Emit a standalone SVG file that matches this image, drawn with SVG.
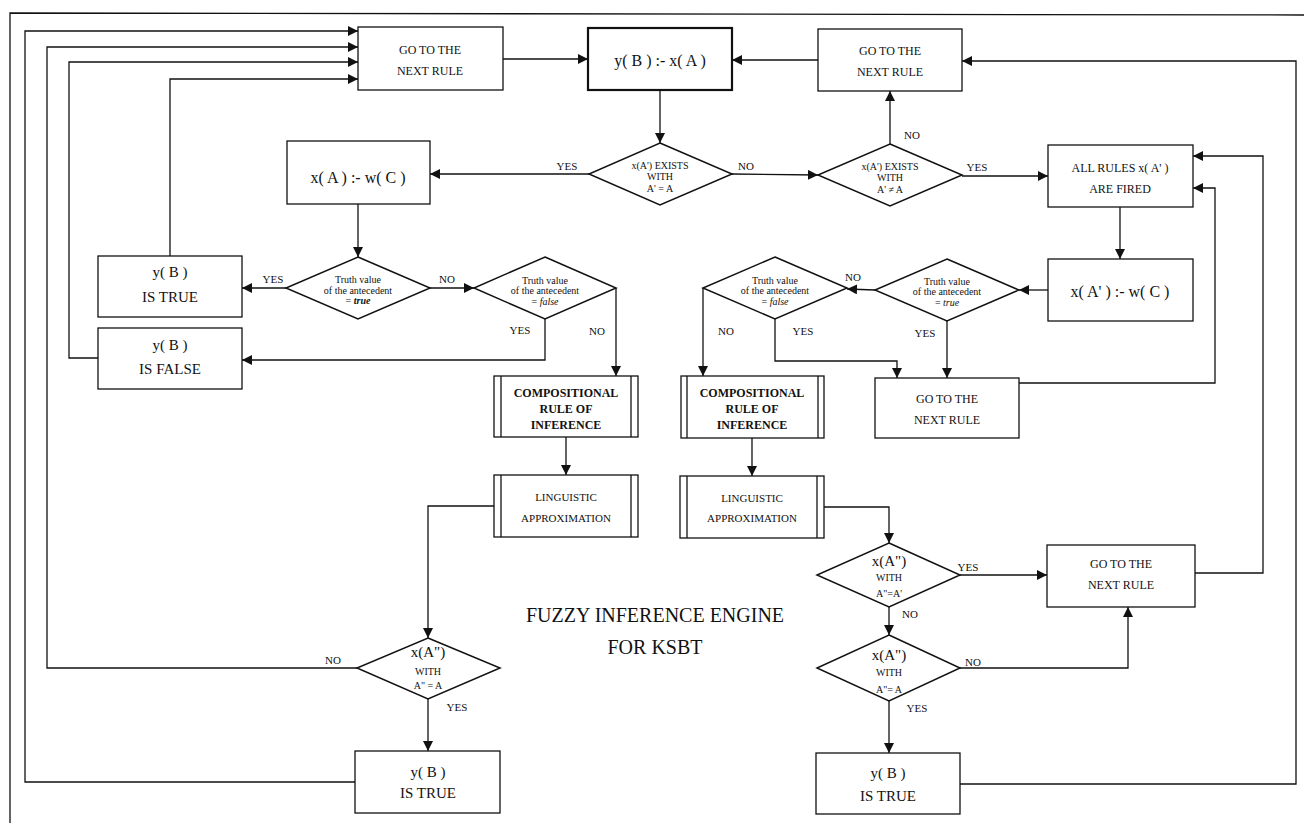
<svg xmlns="http://www.w3.org/2000/svg" width="1304" height="823" viewBox="0 0 1304 823">
<style>
text{font-family:"Liberation Serif","Times New Roman",serif;fill:#111;text-anchor:middle;dominant-baseline:central}
.box{fill:#fff;stroke:#111;stroke-width:1.3}
.thick{stroke-width:2.2}
.dia{fill:#fff;stroke:#111;stroke-width:1.5}
.ln{fill:none;stroke:#111;stroke-width:1.3}
.arr{fill:none;stroke:#111;stroke-width:1.3;marker-end:url(#ah)}
.t12{font-size:12px}
.t11{font-size:11px}
.t15{font-size:15px}
.t16{font-size:16px}
.sm{font-size:10px}
.lab{font-size:11px}
.b{font-weight:bold}
.it{font-style:italic}
.title{font-size:20px}
</style>
<defs>
<marker id="ah" markerUnits="userSpaceOnUse" markerWidth="10" markerHeight="10" viewBox="0 0 10 10" refX="10" refY="5" orient="auto">
<path d="M0,0 L10,5 L0,10 z" fill="#111"/>
</marker>
</defs>
<rect width="1304" height="823" fill="#fff"/>
<polyline class="ln" points="10,823 10,13 1304,15"/>

<g id="connectors">
<line class="arr" x1="503" y1="59" x2="588" y2="59"/>
<line class="arr" x1="818" y1="60" x2="732" y2="60"/>
<line class="arr" x1="660" y1="90" x2="660" y2="143"/>
<line class="arr" x1="589" y1="174" x2="430" y2="174"/>
<line class="arr" x1="732" y1="174" x2="818" y2="175"/>
<line class="arr" x1="890" y1="144" x2="890" y2="91"/>
<line class="arr" x1="962" y1="176" x2="1048" y2="176"/>
<polyline class="arr" points="960,784 1296,784 1296,61 962,61"/>
<line class="arr" x1="1120" y1="207" x2="1120" y2="259"/>
<line class="arr" x1="1048" y1="290" x2="1019" y2="290"/>
<line class="arr" x1="875" y1="290" x2="847" y2="289"/>
<line class="arr" x1="947" y1="321" x2="947" y2="378"/>
<polyline class="arr" points="775,319 775,361 897,361 897,378"/>
<line class="arr" x1="703" y1="288" x2="703" y2="376"/>
<polyline class="arr" points="1019,383 1215,383 1215,188 1193,188"/>
<polyline class="arr" points="1195,573 1263,573 1263,156 1193,156"/>
<line class="arr" x1="358" y1="204" x2="358" y2="257"/>
<line class="arr" x1="286" y1="288" x2="242" y2="288"/>
<line class="arr" x1="430" y1="288" x2="474" y2="288"/>
<polyline class="arr" points="545,319 545,360 242,360"/>
<line class="arr" x1="616" y1="288" x2="616" y2="376"/>
<line class="arr" x1="566" y1="437" x2="566" y2="475"/>
<polyline class="arr" points="494,506 428,506 428,638"/>
<line class="arr" x1="428" y1="699" x2="428" y2="751"/>
<polyline class="arr" points="357,668 47,668 47,47 358,47"/>
<polyline class="arr" points="355,782 25,782 25,31 358,31"/>
<polyline class="arr" points="98,358 69,358 69,62 358,62"/>
<polyline class="arr" points="170,256 170,79 358,79"/>
<line class="arr" x1="752" y1="438" x2="752" y2="476"/>
<polyline class="arr" points="824,507 889,507 889,543"/>
<line class="arr" x1="960" y1="575" x2="1047" y2="575"/>
<line class="arr" x1="889" y1="607" x2="889" y2="635"/>
<polyline class="arr" points="960,668 1128,668 1128,607"/>
<line class="arr" x1="889" y1="701" x2="889" y2="753"/>
<text class="lab" x="567" y="166">YES</text>
<text class="lab" x="746" y="166">NO</text>
<text class="lab" x="912" y="135">NO</text>
<text class="lab" x="977" y="167">YES</text>
<text class="lab" x="853" y="277">NO</text>
<text class="lab" x="925" y="333">YES</text>
<text class="lab" x="803" y="331">YES</text>
<text class="lab" x="726" y="331">NO</text>
<text class="lab" x="273" y="279">YES</text>
<text class="lab" x="447" y="279">NO</text>
<text class="lab" x="520" y="330">YES</text>
<text class="lab" x="597" y="331">NO</text>
<text class="lab" x="457" y="707">YES</text>
<text class="lab" x="333" y="660">NO</text>
<text class="lab" x="968" y="567">YES</text>
<text class="lab" x="910" y="614">NO</text>
<text class="lab" x="973" y="662">NO</text>
<text class="lab" x="917" y="708">YES</text>
</g>

<g id="go1"><rect class="box" x="358" y="27" width="145" height="63"/><text class="t12" x="430" y="50">GO TO THE</text><text class="t12" x="430" y="71">NEXT RULE</text></g>
<g id="ybxa"><rect class="box thick" x="588" y="28" width="144" height="62"/><text class="t16" x="660" y="60">y( B ) :- x( A )</text></g>
<g id="go2"><rect class="box" x="818" y="29" width="144" height="62"/><text class="t12" x="890" y="51">GO TO THE</text><text class="t12" x="890" y="72">NEXT RULE</text></g>
<g id="d1"><polygon class="dia" points="660,143 732,174 660,205 589,174"/><text class="sm" x="660" y="165">x(A') EXISTS</text><text class="sm" x="660" y="176">WITH</text><text class="sm" x="660" y="188">A' = A</text></g>
<g id="d2"><polygon class="dia" points="890,144 962,175 890,206 818,175"/><text class="sm" x="890" y="166">x(A') EXISTS</text><text class="sm" x="890" y="177">WITH</text><text class="sm" x="890" y="189">A' ≠ A</text></g>
<g id="allrules"><rect class="box" x="1048" y="145" width="145" height="62"/><text class="t12" x="1120" y="168">ALL RULES x( A' )</text><text class="t12" x="1120" y="189">ARE FIRED</text></g>
<g id="xawc"><rect class="box" x="287" y="141" width="143" height="63"/><text class="t16" x="358" y="177">x( A ) :- w( C )</text></g>
<g id="dt1"><polygon class="dia" points="358,257 430,288 358,319 286,288"/><text class="sm" x="358" y="279">Truth value</text><text class="sm" x="358" y="290">of the antecedent</text><text class="sm" x="358" y="300">= <tspan class="it b">true</tspan></text></g>
<g id="df1"><polygon class="dia" points="545,257 616,288 545,319 474,288"/><text class="sm" x="545" y="280">Truth value</text><text class="sm" x="545" y="290">of the antecedent</text><text class="sm" x="545" y="301">= <tspan class="it">false</tspan></text></g>
<g id="istrue1"><rect class="box" x="98" y="256" width="144" height="61"/><text class="t15" x="170" y="272">y( B )</text><text class="t15" x="170" y="297">IS TRUE</text></g>
<g id="isfalse"><rect class="box" x="98" y="328" width="144" height="61"/><text class="t15" x="170" y="345">y( B )</text><text class="t15" x="170" y="369">IS FALSE</text></g>
<g id="comp1"><rect class="box" x="494" y="376" width="144" height="61"/><line class="ln" x1="501" y1="376" x2="501" y2="437"/><line class="ln" x1="631" y1="376" x2="631" y2="437"/><text class="t12 b" x="566" y="393">COMPOSITIONAL</text><text class="t12 b" x="566" y="409">RULE OF</text><text class="t12 b" x="566" y="425">INFERENCE</text></g>
<g id="ling1"><rect class="box" x="494" y="475" width="144" height="62"/><line class="ln" x1="501" y1="475" x2="501" y2="537"/><line class="ln" x1="631" y1="475" x2="631" y2="537"/><text class="t11" x="566" y="497">LINGUISTIC</text><text class="t11" x="566" y="518">APPROXIMATION</text></g>
<g id="d5"><polygon class="dia" points="428,638 500,668 428,699 357,668"/><text class="t15" x="428" y="652">x(A")</text><text class="sm" x="428" y="671">WITH</text><text class="sm" x="428" y="685">A" = A</text></g>
<g id="istrue2"><rect class="box" x="355" y="751" width="145" height="62"/><text class="t15" x="428" y="772">y( B )</text><text class="t15" x="428" y="793">IS TRUE</text></g>
<g id="xapwc"><rect class="box" x="1048" y="259" width="145" height="62"/><text class="t16" x="1120" y="291">x( A' ) :- w( C )</text></g>
<g id="dt2"><polygon class="dia" points="947,259 1019,290 947,321 875,290"/><text class="sm" x="947" y="281">Truth value</text><text class="sm" x="947" y="291">of the antecedent</text><text class="sm" x="947" y="302">= <tspan class="it">true</tspan></text></g>
<g id="df2"><polygon class="dia" points="775,257 847,288 775,319 703,288"/><text class="sm" x="775" y="280">Truth value</text><text class="sm" x="775" y="290">of the antecedent</text><text class="sm" x="775" y="301">= <tspan class="it">false</tspan></text></g>
<g id="go3"><rect class="box" x="875" y="378" width="144" height="60"/><text class="t12" x="947" y="399">GO TO THE</text><text class="t12" x="947" y="420">NEXT RULE</text></g>
<g id="comp2"><rect class="box" x="681" y="376" width="143" height="62"/><line class="ln" x1="687" y1="376" x2="687" y2="438"/><line class="ln" x1="818" y1="376" x2="818" y2="438"/><text class="t12 b" x="752" y="393">COMPOSITIONAL</text><text class="t12 b" x="752" y="409">RULE OF</text><text class="t12 b" x="752" y="425">INFERENCE</text></g>
<g id="ling2"><rect class="box" x="680" y="476" width="144" height="62"/><line class="ln" x1="687" y1="476" x2="687" y2="538"/><line class="ln" x1="817" y1="476" x2="817" y2="538"/><text class="t11" x="752" y="498">LINGUISTIC</text><text class="t11" x="752" y="518">APPROXIMATION</text></g>
<g id="d6"><polygon class="dia" points="889,543 960,575 889,607 817,575"/><text class="t15" x="889" y="561">x(A")</text><text class="sm" x="889" y="577">WITH</text><text class="sm" x="889" y="593">A"=A'</text></g>
<g id="go4"><rect class="box" x="1047" y="545" width="148" height="62"/><text class="t12" x="1121" y="564">GO TO THE</text><text class="t12" x="1121" y="585">NEXT RULE</text></g>
<g id="d7"><polygon class="dia" points="889,635 960,668 889,701 817,668"/><text class="t15" x="889" y="655">x(A")</text><text class="sm" x="889" y="672">WITH</text><text class="sm" x="889" y="689">A"= A</text></g>
<g id="istrue3"><rect class="box" x="816" y="753" width="144" height="61"/><text class="t15" x="888" y="773">y( B )</text><text class="t15" x="888" y="796">IS TRUE</text></g>
<g id="title"><text class="title" x="655" y="615">FUZZY INFERENCE ENGINE</text><text class="title" x="655" y="647">FOR KSBT</text></g>
</svg>
